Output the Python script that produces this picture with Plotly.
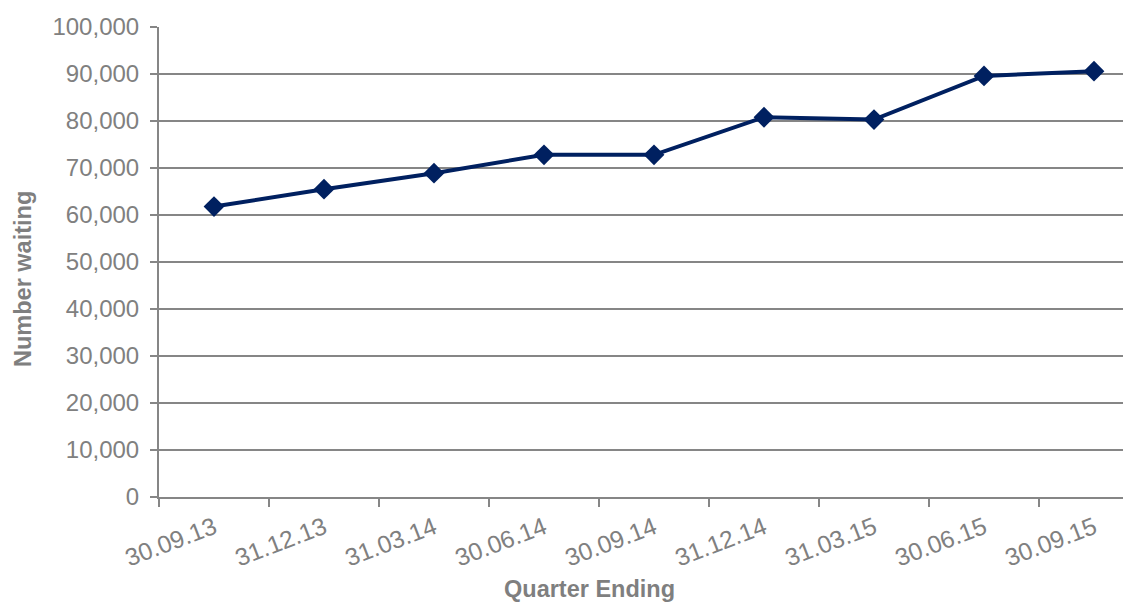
import plotly.graph_objects as go

quarters = ["30.09.13", "31.12.13", "31.03.14", "30.06.14", "30.09.14",
            "31.12.14", "31.03.15", "30.06.15", "30.09.15"]
number_waiting = [61800, 65500, 68900, 72800, 72800, 80800, 80300, 89600, 90600]

y_title = "Number waiting"
x_title = "Quarter Ending"

OFF = 8  # page body margin
W, H = 1131 - OFF, 603 - OFF
L, R, T, B = 159 - OFF, 0, 27 - OFF, 603 - 497
PW, PH = W - L - R, H - T - B

navy = "#002060"
grid = "#868686"
txt = "#808080"
font = "Liberation Sans, Arial, sans-serif"

fig = go.Figure()
fig.add_trace(go.Scatter(
    x=quarters, y=number_waiting, mode="lines+markers",
    line=dict(color=navy, width=4),
    marker=dict(symbol="diamond", size=16, color=navy),
    showlegend=False, cliponaxis=False,
))

fig.update_layout(
    width=W, height=H,
    margin=dict(l=L, r=R, t=T, b=B, pad=0),
    paper_bgcolor="white", plot_bgcolor="white",
    font=dict(family=font, color=txt, size=24),
    xaxis=dict(
        type="category", categoryorder="array", categoryarray=quarters,
        range=[-0.5, -0.5 + PW / 110.0], tickson="boundaries",
        ticks="outside", ticklen=8, tickwidth=2, tickcolor=grid,
        showline=True, linecolor=grid, linewidth=2,
        showgrid=False, tickangle=-21,
        tickfont=dict(family=font, size=24.5, color=txt),
        ticklabelstandoff=5,
        fixedrange=True,
    ),
    yaxis=dict(
        range=[0, 100000], dtick=10000, tickformat=",",
        ticks="outside", ticklen=7, tickwidth=2, tickcolor=grid,
        showline=True, linecolor=grid, linewidth=2,
        showgrid=True, gridcolor=grid, gridwidth=2,
        zeroline=False,
        tickfont=dict(family=font, size=24, color=txt),
        ticklabelstandoff=6,
        fixedrange=True,
    ),
    annotations=[
        dict(text=f"<b>{x_title}</b>", xref="paper", yref="paper",
             x=(589 - 159) / PW, y=(497 - 589) / PH,
             xanchor="center", yanchor="middle", showarrow=False,
             font=dict(family=font, size=23.5, color="#7f7f7f")),
        dict(text=f"<b>{y_title}</b>", xref="paper", yref="paper",
             x=(23 - 159) / PW, y=(497 - 279) / PH,
             xanchor="center", yanchor="middle", showarrow=False, textangle=-90,
             font=dict(family=font, size=23.5, color="#7f7f7f")),
    ],
)

fig.write_html("out.html")
